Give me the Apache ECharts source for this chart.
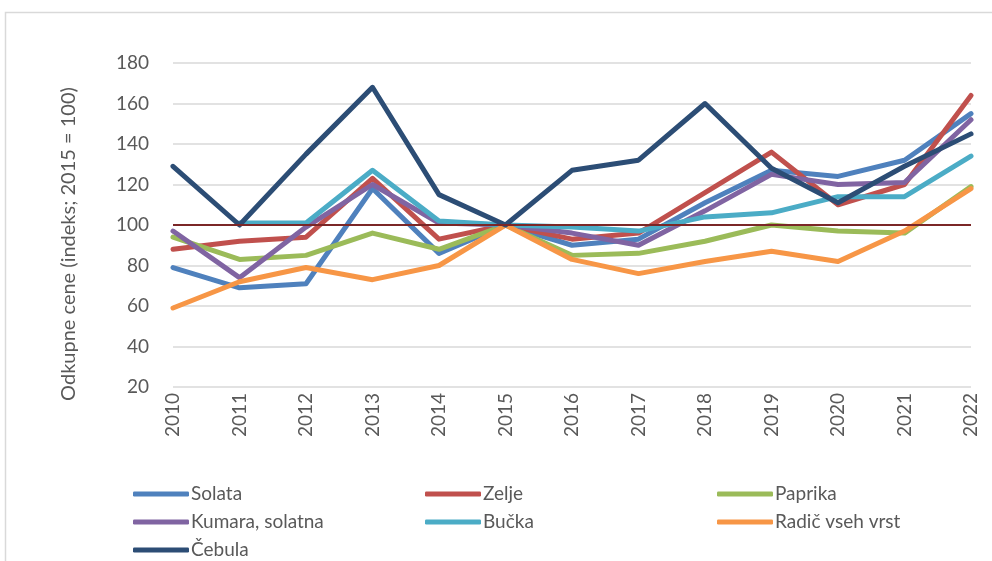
<!DOCTYPE html>
<html>
<head>
<meta charset="utf-8">
<script src="https://cdn.jsdelivr.net/npm/echarts@6/dist/echarts.min.js"></script>
<style>
  html, body { margin: 0; padding: 0; background: #fff; }
  #chart { width: 992px; height: 561px; }
</style>
</head>
<body>
<div id="chart"></div>
<script>
// leta
const years = ['2010', '2011', '2012', '2013', '2014', '2015', '2016', '2017', '2018', '2019', '2020', '2021', '2022'];
// indeksi odkupnih cen (2015 = 100)
const solata  = [79, 69, 71, 118, 86, 100, 90, 93, 111, 127, 124, 132, 155];
const zelje   = [88, 92, 94, 123, 93, 100, 93, 96, 116, 136, 110, 120, 164];
const paprika = [94, 83, 85, 96, 88, 100, 85, 86, 92, 100, 97, 96, 119];
const kumara  = [97, 74, 99, 120, 101, 100, 96, 90, 107, 125, 120, 121, 152];
const bucka   = [null, 101, 101, 127, 102, 100, 99, 97, 104, 106, 114, 114, 134];
const radic   = [59, 72, 79, 73, 80, 100, 83, 76, 82, 87, 82, 97, 118];
const cebula  = [129, 100, 135, 168, 115, 100, 127, 132, 160, 128, 111, 129, 145];
const yTicks = [20, 180, 20]; // min, max, interval

const font = 'Lato, "Noto Sans", sans-serif';
const names = ['Solata', 'Zelje', 'Paprika', 'Kumara, solatna', 'Bučka', 'Radič vseh vrst', 'Čebula'];
const colors = ['#4F81BD', '#C0504D', '#9BBB59', '#8064A2', '#4BACC6', '#F79646', '#2C4D75'];
const values = [solata, zelje, paprika, kumara, bucka, radic, cebula];

const series = names.map(function (n, i) {
  const s = {
    name: n,
    type: 'line',
    data: values[i],
    symbol: 'none',
    smooth: false,
    connectNulls: false,
    lineStyle: { width: 5, color: colors[i], join: 'round', cap: 'round' },
    itemStyle: { color: colors[i] },
    z: 2 + i
  };
  if (i === names.length - 1) {
    s.markLine = {
      silent: true,
      symbol: 'none',
      label: { show: false },
      lineStyle: { color: '#7B2727', width: 2, type: 'solid' },
      data: [{ yAxis: 100 }],
      z: 20
    };
  }
  return s;
});

const chart = echarts.init(document.getElementById('chart'));
chart.setOption({
  animation: false,
  backgroundColor: '#fff',
  color: colors,
  graphic: [{
    type: 'rect',
    shape: { x: 5.5, y: 12.5, width: 1000, height: 600 },
    style: { fill: 'none', stroke: '#D9D9D9', lineWidth: 1.5 },
    silent: true
  }],
  grid: { left: 173, right: 21, top: 63, bottom: 174 },
  xAxis: {
    type: 'category',
    data: years,
    boundaryGap: false,
    axisLine: { show: false },
    axisTick: { show: false },
    axisLabel: { rotate: 90, margin: 6, color: '#595959', fontFamily: font, fontSize: 19 }
  },
  yAxis: {
    type: 'value',
    min: yTicks[0],
    max: yTicks[1],
    interval: yTicks[2],
    name: 'Odkupne cene (indeks; 2015 = 100)',
    nameLocation: 'middle',
    nameGap: 94,
    nameTextStyle: { color: '#595959', fontFamily: font, fontSize: 20, padding: [0, 38, 0, 0] },
    axisLine: { show: false },
    axisTick: { show: false },
    axisLabel: { margin: 24, color: '#595959', fontFamily: font, fontSize: 19 },
    splitLine: { lineStyle: { color: '#D9D9D9', width: 1.5 } }
  },
  legend: {
    data: names,
    left: 133,
    top: 480,
    width: 900,
    padding: 0,
    itemGap: 0,
    itemWidth: 56,
    itemHeight: 5,
    icon: 'roundRect',
    textStyle: { color: '#595959', fontFamily: font, fontSize: 19, width: 234, lineHeight: 28, padding: [0, 0, 0, -3] }
  },
  series: series
});
</script>
</body>
</html>
